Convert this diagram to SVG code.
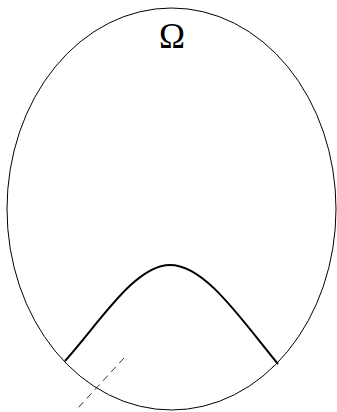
<svg xmlns="http://www.w3.org/2000/svg" width="337" height="412" viewBox="0 0 337 412">
<style>
.thin{fill:none;stroke:#000;stroke-width:1}
.thick{fill:none;stroke:#000;stroke-width:2}
.dash{fill:none;stroke:#333;stroke-width:1;stroke-dasharray:7 5}
</style>
<rect width="337" height="412" fill="#fff"/>
<g id="domain">
<ellipse class="thin" cx="171.5" cy="209" rx="164.5" ry="201"/>
<text x="172" y="48" font-family="Liberation Serif, serif" font-size="35" text-anchor="middle">Ω</text>
</g>
<g id="curve">
<path class="thick" d="M65,361 C100,322 135,265 170,265 C205,265 240,318 278,364"/>
</g>
<g id="connectors">
<line class="dash" x1="124" y1="358" x2="78" y2="408"/>
</g>
</svg>
